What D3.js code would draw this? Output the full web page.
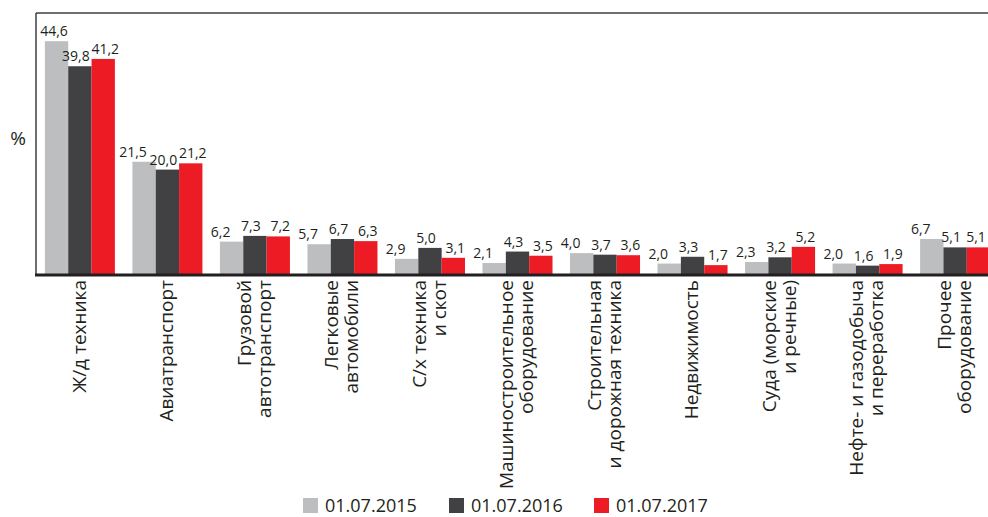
<!DOCTYPE html>
<html><head><meta charset="utf-8">
<script src="https://cdn.jsdelivr.net/npm/d3@7"></script>
<style>html,body{margin:0;padding:0;background:#fff;}svg{display:block;font-family:"Open Sans","Noto Sans",sans-serif;}</style>
</head><body>
<svg id="chart" width="988" height="517"></svg>
<script>
const categories = ["Ж/д техника","Авиатранспорт","Грузовой\nавтотранспорт","Легковые\nавтомобили","С/х техника\nи скот","Машиностроительное\nоборудование","Строительная\nи дорожная техника","Недвижимость","Суда (морские\nи речные)","Нефте- и газодобыча\nи переработка","Прочее\nоборудование"];
const seriesNames = ["01.07.2015","01.07.2016","01.07.2017"];
const v2015 = [44.6,21.5,6.2,5.7,2.9,2.1,4.0,2.0,2.3,2.0,6.7];
const v2016 = [39.8,20.0,7.3,6.7,5.0,4.3,3.7,3.3,3.2,1.6,5.1];
const v2017 = [41.2,21.2,7.2,6.3,3.1,3.5,3.6,1.7,5.2,1.9,5.1];
const yUnit = "%";

(function () {
const series = [v2015, v2016, v2017];
const colors = ["#bcbec0", "#414042", "#ed1c24"];
const labelDx = [-11, -4, 2];

const svg = d3.select("#chart");
const mLeft = 37, mTop = 13, mBottom = 274, mRight = 988;

const x0 = d3.scaleBand().domain(categories).range([mLeft, 998]).paddingInner(0.2).paddingOuter(0.09);
const x1 = d3.scaleBand().domain(d3.range(3)).range([0, x0.bandwidth()]);
const y = d3.scaleLinear().domain([0, 50]).range([mBottom, mTop]);

const g = svg.append("g");
categories.forEach((c, i) => {
  series.forEach((s, k) => {
    const xx = x0(c) + x1(k);
    g.append("rect").attr("x", xx).attr("y", y(s[i])).attr("width", x1.bandwidth()).attr("height", y(0) - y(s[i])).attr("fill", colors[k]);
    const lx = Math.max(mLeft + 17, Math.min(xx + x1.bandwidth() / 2 + labelDx[k], mRight - 12));
    g.append("text").attr("x", lx).attr("y", y(s[i]) - 5)
      .attr("text-anchor", "middle").attr("font-size", 14).attr("fill", "#231f20")
      .text(d3.format(".1f")(s[i]).replace(".", ","));
  });
});

// frame lines
svg.append("line").attr("x1", mLeft - 1).attr("x2", mRight).attr("y1", mTop).attr("y2", mTop).attr("stroke", "#3f3f41").attr("stroke-width", 1.5);
svg.append("line").attr("x1", mLeft - 1).attr("x2", mLeft - 1).attr("y1", mTop).attr("y2", mBottom + 1).attr("stroke", "#3f3f41").attr("stroke-width", 1.5);

// x axis
const xAxis = svg.append("g").attr("transform", `translate(0,${mBottom + 1})`)
  .call(d3.axisBottom(x0).tickSize(0).tickFormat(""));
xAxis.select(".domain").attr("stroke", "#231f20").attr("stroke-width", 3).attr("d", `M${mLeft - 2},0H${mRight}`);

// category labels
categories.forEach(c => {
  const lines = c.split("\n");
  const cx = x0(c) + x0.bandwidth() / 2;
  const t = svg.append("text").attr("transform", `translate(${cx},280) rotate(-90)`)
    .attr("text-anchor", "end").attr("font-size", 19).attr("fill", "#231f20");
  lines.forEach((l, j) => {
    const off = (j - (lines.length - 1) / 2) * 20;
    t.append("tspan").attr("x", 0).attr("y", off).attr("dy", "0.3em").text(l);
  });
});

// y unit
svg.append("text").attr("x", 18).attr("y", 138).attr("dy", "0.35em").attr("text-anchor", "middle")
  .attr("font-size", 19).attr("fill", "#231f20").text(yUnit);

// legend
const legX = [303, 449, 594];
seriesNames.forEach((n, k) => {
  svg.append("rect").attr("x", legX[k]).attr("y", 498).attr("width", 15).attr("height", 15).attr("fill", colors[k]);
  svg.append("text").attr("x", legX[k] + 22).attr("y", 512).attr("font-size", 18).attr("fill", "#231f20").text(n);
});
})();
</script>
</body></html>
